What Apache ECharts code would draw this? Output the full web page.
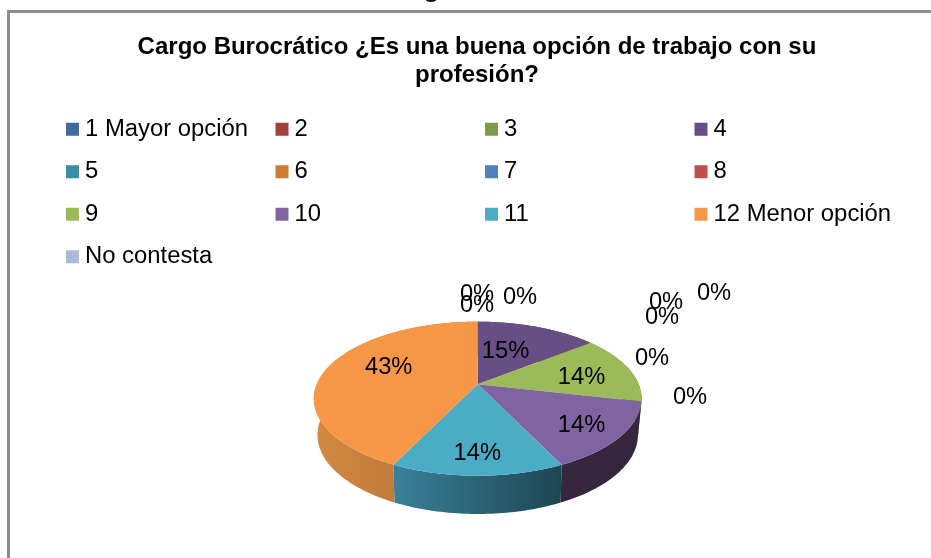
<!DOCTYPE html>
<html><head><meta charset="utf-8">
<style>html,body{margin:0;padding:0;background:#fff}#c{width:931px;height:558px}</style>
<script src="https://cdn.jsdelivr.net/npm/echarts@6/dist/echarts.min.js"></script>
</head><body><div id="c"></div>
<script>
var categories = ['1 Mayor opción','2','3','4','5','6','7','8','9','10','11','12 Menor opción','No contesta'];
var values = [0,0,0,14.29,0,0,0,0,14.29,14.29,14.29,42.84,0];
var percentLabels = ['0%','0%','0%','15%','0%','0%','0%','0%','14%','14%','14%','43%','0%'];
var swatchColors = ['#3E6A9E','#A33F3C','#7F9A46','#674E84','#3A8DA3','#CE7C34','#4F81BD','#C0504D','#9BBB59','#8064A2','#4BACC6','#F79646','#ACBAD8'];
var sideLeft  = ['#3E6A9E','#A33F3C','#7F9A46','#4A3860','#3A8DA3','#CE7C34','#4F81BD','#C0504D','#5F7336','#36263F','#3A8198','#D38A42','#ACBAD8'];
var sideRight = ['#3E6A9E','#A33F3C','#7F9A46','#4A3860','#3A8DA3','#CE7C34','#4F81BD','#C0504D','#5F7336','#35263E','#1D4652','#AE6B33','#ACBAD8'];
// label centres in the picture, one per category
var labelX = [477,477,520,505.5,666,662,714,652,581.5,581.5,477.3,388.7,690];
var labelY = [294,305,297,351,302,317,293,358,377,425,453,367.7,397];

var FONT = '"Liberation Sans", Arial, sans-serif';
var apexX = 477.7;
// projective maps of the top and bottom discs of the 3D pie
var topDisc = {cy:384.3, persp:-0.187, sy:74.3, sx:161};
var bottomDisc = {cy:419, persp:-0.2, sy:76, sx:157};
var total = values.reduce(function(a,b){return a+b;},0);

function project(disc, theta){
  var u = Math.sin(theta), v = -Math.cos(theta), d = 1 + disc.persp*v;
  return [apexX + disc.sx*u/d, disc.cy + disc.sy*v/d];
}

function renderSlice(params, api){
  var i = params.seriesIndex, val = api.value(0), children = [];
  var before = 0;
  for (var k=0;k<i;k++) before += values[k];
  if (val > 0){
    var a0 = before/total*2*Math.PI, a1 = (before+val)/total*2*Math.PI;
    var n = Math.max(8, Math.ceil((a1-a0)/0.02)), rim = [], low = [];
    for (var s=0;s<=n;s++){
      var t = a0+(a1-a0)*s/n;
      rim.push(project(topDisc,t));
      low.unshift(project(bottomDisc,t));
    }
    children.push({type:'polygon', z2:1, shape:{points:rim.concat(low)}, style:{
      fill:new echarts.graphic.LinearGradient(0,0,1,0,[{offset:0,color:sideLeft[i]},{offset:1,color:sideRight[i]}])
    }});
    children.push({type:'polygon', z2:5, shape:{points:[[apexX,topDisc.cy]].concat(rim)}, style:{fill:api.visual('color')}});
  }
  children.push({type:'text', z2:10, x:labelX[i], y:labelY[i], style:{
    text:percentLabels[i], font:'23.7px '+FONT, fill:'#000', align:'center', verticalAlign:'middle'
  }});
  return {type:'group', children:children};
}

var series = categories.map(function(name,i){
  return {type:'custom', name:name, coordinateSystem:'none', data:[[values[i]]],
    itemStyle:{color:swatchColors[i]}, renderItem:renderSlice, silent:true, animation:false, clip:false};
});

var chart = echarts.init(document.getElementById('c'),null,{renderer:'canvas'});
chart.setOption({
  animation:false,
  backgroundColor:'#fff',
  title:{
    text:'Cargo Burocrático ¿Es una buena opción de trabajo con su\nprofesión?',
    left:477, top:34, textAlign:'center', padding:0,
    textStyle:{fontFamily:FONT,fontWeight:'bold',fontSize:24,lineHeight:27.5,color:'#000'}
  },
  legend:{
    left:66, top:108, width:845, padding:0, orient:'horizontal',
    itemWidth:13, itemHeight:13, itemGap:0, icon:'rect', selectedMode:false,
    data:categories,
    textStyle:{fontFamily:FONT,fontSize:23.85,color:'#000',width:190.5,lineHeight:42.5,padding:[0,0,0,1]}
  },
  graphic:[
    {type:'polyline', silent:true, shape:{points:[[8.5,560],[8.5,11.5],[935,11.5]]}, style:{stroke:'#8C8C8C',fill:null,lineWidth:3}},
    {type:'ellipse', silent:true, shape:{cx:431,cy:0,rx:5,ry:2}, style:{fill:'#111'}}
  ],
  series:series
});
</script></body></html>
